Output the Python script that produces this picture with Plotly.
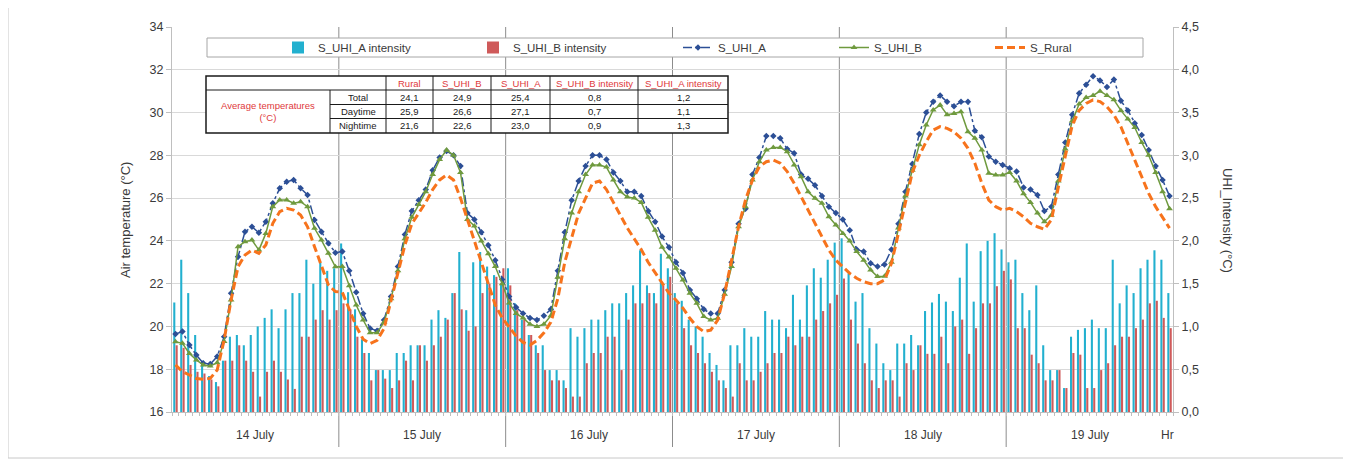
import plotly.graph_objects as go

# ---------------- data ----------------
days = ["14 July", "15 July", "16 July", "17 July", "18 July", "19 July"]
hours_per_day = 24

s_uhi_a = [
    19.65, 19.76, 19.13, 18.66, 18.28, 18.24, 18.59, 19.52, 21.55, 23.26, 24.43, 24.66, 24.38, 24.9, 25.76, 26.46, 26.77, 26.85, 26.46, 26.15, 24.98, 24.43, 23.89, 23.45,
    23.5, 22.6, 21.6, 20.6, 19.9, 19.8, 20.3, 21.4, 22.8, 24.3, 25.4, 25.9, 26.4, 27.3, 27.9, 28.2, 28.0, 27.5, 25.3, 25.0, 24.4, 23.8, 23.1, 22.2,
    21.4, 20.9, 20.6, 20.4, 20.3, 20.5, 20.8, 22.6, 24.4, 25.9, 26.8, 27.5, 28.0, 28.0, 27.8, 27.2, 26.8, 26.3, 26.3, 26.1, 25.4, 24.9, 24.2, 23.7,
    23.0, 22.5, 21.7, 21.3, 20.8, 20.6, 20.6, 21.7, 23.0, 24.8, 25.5, 27.1, 27.9, 28.9, 28.9, 28.8, 28.3, 28.1, 27.1, 26.9, 26.6, 26.1, 25.6, 25.3,
    25.0, 24.5, 23.6, 23.5, 22.95, 22.8, 22.9, 23.6, 24.8, 26.3, 27.6, 29.0, 30.0, 30.5, 30.8, 30.5, 30.3, 30.5, 30.5, 29.15, 28.85, 27.95, 27.7, 27.55,
    27.4, 27.25, 26.5, 26.4, 26.15, 25.4, 25.6, 27.1, 28.6, 29.9, 30.9, 31.3, 31.7, 31.5, 31.2, 31.55, 30.55, 30.1, 29.5, 28.95, 28.25, 27.5, 26.85, 26.1,
]
s_uhi_b = [
    19.29, 19.21, 18.74, 18.43, 18.2, 18.15, 18.3, 19.3, 21.24, 23.73, 23.96, 24.04, 23.57, 24.35, 25.6, 25.91, 25.91, 25.76, 25.83, 25.6, 24.59, 24.04, 23.42, 22.79,
    22.8, 21.9, 21.0, 20.3, 19.7, 19.7, 20.2, 21.3, 22.6, 24.1, 25.1, 25.7, 26.3, 27.1, 27.8, 28.25, 28.0, 27.2, 25.0, 24.7, 24.0, 23.4, 22.8, 22.0,
    21.1, 20.6, 20.4, 20.1, 20.0, 20.1, 20.5, 22.3, 24.1, 25.3, 26.3, 27.1, 27.55, 27.55, 27.45, 26.85, 26.3, 26.05, 26.0, 25.8, 25.1, 24.5, 23.7, 23.25,
    22.72, 22.17, 21.55, 21.08, 20.46, 20.3, 20.38, 21.5, 22.8, 24.66, 25.6, 26.85, 27.7, 28.25, 28.37, 28.37, 28.17, 27.55, 27.0, 26.3, 25.99, 25.76, 25.13, 24.74,
    24.35, 24.0, 23.5, 23.1, 22.64, 22.33, 22.35, 23.0, 24.6, 26.1, 27.3, 28.5, 29.42, 30.12, 30.35, 29.9, 29.96, 30.04, 29.1, 28.8, 28.25, 27.16, 27.08, 27.08,
    27.2, 26.8, 26.2, 25.8, 25.3, 24.9, 25.2, 26.8, 28.3, 29.6, 30.4, 30.7, 30.8, 31.0, 30.8, 30.6, 30.1, 29.7, 29.3, 28.6, 28.0, 27.2, 26.3, 25.5,
]
s_rural = [
    18.2, 17.89, 17.73, 17.57, 17.53, 17.57, 17.96, 19.37, 21.24, 22.79, 23.34, 23.57, 23.42, 23.81, 24.82, 25.37, 25.52, 25.44, 25.21, 24.66, 23.73, 22.79, 21.94, 21.63,
    21.6, 20.8, 20.0, 19.4, 19.2, 19.35, 19.9, 21.2, 22.5, 23.8, 24.8, 25.3, 25.8, 26.4, 26.85, 27.08, 26.85, 26.0, 25.0, 24.0, 23.0, 22.0, 21.0, 20.4,
    20.0, 19.55, 19.25, 19.13, 19.35, 19.7, 20.2, 21.3, 23.0, 24.2, 25.3, 26.0, 26.7, 26.8, 26.4, 25.8, 25.2, 24.6, 24.1, 23.6, 23.0, 22.5, 22.0, 21.55,
    21.24, 20.85, 20.38, 19.99, 19.76, 19.83, 20.3, 21.55, 23.1, 24.66, 25.91, 26.85, 27.47, 27.7, 27.78, 27.63, 27.24, 26.69, 26.07, 25.44, 24.82, 24.2, 23.57, 23.1,
    22.79, 22.48, 22.25, 22.09, 22.0, 22.0, 22.17, 22.95, 24.35, 25.8, 27.2, 28.0, 28.64, 29.18, 29.34, 29.26, 29.1, 28.8, 28.33, 27.63, 26.69, 25.91, 25.6, 25.44,
    25.52, 25.37, 25.13, 24.82, 24.66, 24.54, 24.98, 26.5, 28.0, 29.4, 30.1, 30.43, 30.59, 30.51, 30.27, 29.89, 29.34, 28.56, 27.78, 27.0, 26.22, 25.6, 25.13, 24.6,
]
uhi_a_intensity = [
    1.28, 1.78, 1.39, 0.9, 0.6, 0.42, 0.35, 0.6, 0.88, 0.9, 0.78, 0.9, 1.0, 1.1, 1.2, 0.98, 1.2, 1.39, 1.39, 1.78, 1.5, 1.75, 1.65, 1.68,
    1.97, 1.4, 1.2, 0.85, 0.69, 0.49, 0.49, 0.49, 0.69, 0.69, 0.78, 0.78, 0.78, 1.08, 1.19, 1.1, 1.39, 1.87, 1.19, 1.75, 1.87, 1.7, 1.6, 1.5,
    1.68, 1.27, 1.08, 0.9, 0.78, 0.78, 0.49, 0.49, 0.37, 0.98, 0.88, 0.98, 1.08, 1.08, 1.19, 1.27, 1.27, 1.39, 1.48, 1.89, 1.48, 1.39, 1.85, 1.68,
    1.39, 1.3, 1.08, 1.0, 0.88, 0.69, 0.55, 0.37, 0.78, 0.78, 0.98, 0.88, 0.88, 1.18, 1.08, 1.08, 0.98, 1.37, 1.08, 1.48, 1.68, 1.57, 1.78, 1.98,
    2.03, 1.62, 1.29, 1.39, 0.98, 0.8, 0.57, 0.49, 0.8, 0.8, 0.9, 0.78, 1.18, 1.28, 1.38, 1.29, 1.18, 1.57, 1.97, 1.29, 1.88, 2.0, 2.09, 1.9,
    1.75, 1.78, 1.39, 1.19, 1.48, 0.78, 0.49, 0.49, 0.28, 0.88, 0.96, 0.98, 1.08, 0.98, 0.98, 1.78, 1.27, 1.48, 1.39, 1.68, 1.78, 1.89, 1.78, 1.39,
]
uhi_b_intensity = [
    0.78, 0.75, 0.55, 0.47, 0.45, 0.38, 0.3, 0.6, 0.6, 0.78, 0.6, 0.47, 0.18, 0.47, 0.6, 0.47, 0.38, 0.27, 0.88, 0.88, 1.08, 1.19, 1.08, 1.19,
    1.27, 1.2, 0.88, 0.69, 0.37, 0.49, 0.39, 0.28, 0.37, 0.6, 0.37, 0.78, 0.6, 0.78, 0.88, 1.08, 1.39, 1.2, 0.95, 1.0, 1.39, 1.5, 1.58, 1.68,
    1.48, 1.19, 1.08, 0.9, 0.69, 0.49, 0.37, 0.37, 0.28, 0.18, 0.18, 0.57, 0.69, 0.69, 0.88, 0.88, 0.49, 1.08, 1.27, 1.27, 1.39, 1.27, 1.48, 1.58,
    1.27, 0.98, 0.78, 0.69, 0.57, 0.47, 0.37, 0.28, 0.18, 0.57, 0.37, 0.37, 0.47, 0.57, 0.69, 0.69, 0.88, 0.78, 0.88, 0.88, 1.08, 1.18, 1.27, 1.37,
    1.56, 1.08, 0.8, 0.57, 0.37, 0.28, 0.37, 0.37, 0.18, 0.57, 0.49, 0.78, 0.68, 0.68, 0.88, 0.57, 1.0, 1.08, 0.68, 0.98, 1.27, 1.27, 1.47, 1.65,
    1.55, 0.98, 0.98, 0.67, 0.57, 0.37, 0.37, 0.49, 0.28, 0.69, 0.67, 0.28, 0.28, 0.49, 0.57, 0.78, 0.88, 0.88, 0.98, 1.08, 1.27, 1.3, 1.1, 0.98,
]

# summary table
table_header = ["Rural", "S_UHI_B", "S_UHI_A", "S_UHI_B intensity", "S_UHI_A intensity"]
table_rows = ["Total", "Daytime", "Nightime"]
avg_rural = [24.1, 25.9, 21.6]
avg_uhi_b = [24.9, 26.6, 22.6]
avg_uhi_a = [25.4, 27.1, 23.0]
avg_int_b = [0.8, 0.7, 0.9]
avg_int_a = [1.2, 1.1, 1.3]
table_label = "Average temperatures<br>(°C)"

# ---------------- layout helpers ----------------
# the page body adds an 8px offset; all page-pixel positions below are converted
OFF = 8
W, H = 1351 - OFF, 465 - OFF
PL, PR, PT, PB = 172, 1173, 27, 412          # plot area in page pixels
L, R, T, B = PL - OFF, PR - OFF, PT - OFF, PB - OFF
FONT = "Liberation Sans, Arial, sans-serif"
TXT = "#3a3a3a"
CYAN, RED = "#22b0cf", "#cf5a5a"
BLUE, GREEN, ORANGE = "#2c4f96", "#6f9a3e", "#f7731c"
TRED = "#e0393b"


def px(v):
    return (v - PL) / (PR - PL)


def py(v):
    return (PB - v) / (PB - PT)


def fmt(v):
    return f"{v:.1f}".replace(".", ",")


def note(xp, yp, text, font, **kw):
    d = dict(x=px(xp), y=py(yp), xref="paper", yref="paper", text=text, showarrow=False,
             xanchor="center", yanchor="middle", font=font)
    d.update(kw)
    return d


x = list(range(len(s_uhi_a)))

fig = go.Figure()
fig.add_trace(go.Bar(x=x, y=uhi_a_intensity, name="S_UHI_A intensity", marker=dict(color=CYAN, line_width=0),
                     yaxis="y", legend="legend"))
fig.add_trace(go.Bar(x=x, y=uhi_b_intensity, name="S_UHI_B intensity", marker=dict(color=RED, line_width=0),
                     yaxis="y", legend="legend"))
fig.add_trace(go.Scatter(x=x, y=s_uhi_a, name="S_UHI_A", mode="lines+markers", yaxis="y2", legend="legend2",
                         line=dict(color=BLUE, width=1.5, dash="dashdot"),
                         marker=dict(symbol="diamond", size=5, color=BLUE)))
fig.add_trace(go.Scatter(x=x, y=s_uhi_b, name="S_UHI_B", mode="lines+markers", yaxis="y2", legend="legend2",
                         line=dict(color=GREEN, width=1.5),
                         marker=dict(symbol="triangle-up", size=6, color=GREEN)))
fig.add_trace(go.Scatter(x=x, y=s_rural, name="S_Rural", mode="lines", yaxis="y2", legend="legend2",
                         line=dict(color=ORANGE, width=3, dash="8px,4px")))

n = len(x)
shapes = []
annotations = []

# day boundary lines
for d in range(1, len(days)):
    xb = d * hours_per_day - 0.5
    shapes.append(dict(type="line", xref="x", yref="paper", x0=xb, x1=xb, y0=py(447), y1=1,
                       line=dict(color="#8c8c8c", width=1), layer="below"))
# day labels
lab_font = dict(family=FONT, size=12, color=TXT)
for d, lab in enumerate(days):
    annotations.append(dict(x=d * hours_per_day + hours_per_day / 2 - 0.5, y=py(435), xref="x", yref="paper",
                            text=lab, showarrow=False, xanchor="center", yanchor="middle", font=lab_font))
annotations.append(note(1167, 435, "Hr", lab_font))

# axis titles
title_font = dict(family=FONT, size=13, color=TXT)
annotations.append(note(125, 220, "Air temperature (°C)", title_font, textangle=-90))
annotations.append(note(1228, 220, "UHI_Intensity (°C)", title_font, textangle=90))

# outer frame
shapes.append(dict(type="rect", xref="paper", yref="paper", x0=px(8), x1=px(1346), y0=py(458), y1=py(4),
                   line=dict(color="#c8c8c8", width=1), layer="below"))

# legend box
shapes.append(dict(type="rect", xref="paper", yref="paper", x0=px(207), x1=px(1143), y0=py(57), y1=py(38),
                   line=dict(color="#a6a6a6", width=1), fillcolor="white", layer="above"))

# table
col_x = [206, 330, 386, 433, 491, 550, 638, 728]
row_y = [76, 90, 104.5, 118.5, 133]
dark = "#1a1a1a"
shapes.append(dict(type="rect", xref="paper", yref="paper", x0=px(col_x[0]), x1=px(col_x[-1]),
                   y0=py(row_y[-1]), y1=py(row_y[0]), line=dict(color=dark, width=1.5),
                   fillcolor="white", layer="above"))
shapes.append(dict(type="line", xref="paper", yref="paper", x0=px(col_x[0]), x1=px(col_x[-1]),
                   y0=py(row_y[1]), y1=py(row_y[1]), line=dict(color=dark, width=1), layer="above"))
for ry in row_y[2:-1]:
    shapes.append(dict(type="line", xref="paper", yref="paper", x0=px(col_x[1]), x1=px(col_x[-1]),
                       y0=py(ry), y1=py(ry), line=dict(color=dark, width=1), layer="above"))
shapes.append(dict(type="line", xref="paper", yref="paper", x0=px(col_x[1]), x1=px(col_x[1]),
                   y0=py(row_y[-1]), y1=py(row_y[1]), line=dict(color=dark, width=1), layer="above"))
for cx in col_x[2:-1]:
    shapes.append(dict(type="line", xref="paper", yref="paper", x0=px(cx), x1=px(cx),
                       y0=py(row_y[-1]), y1=py(row_y[0]), line=dict(color=dark, width=1), layer="above"))

tfont = dict(family=FONT, size=9.5, color=dark)
rfont = dict(family=FONT, size=9.5, color=TRED)
for i, h in enumerate(table_header):
    cx = (col_x[i + 2] + col_x[i + 3]) / 2
    annotations.append(note(cx, (row_y[0] + row_y[1]) / 2, h, rfont))
columns = [avg_rural, avg_uhi_b, avg_uhi_a, avg_int_b, avg_int_a]
for r, lab in enumerate(table_rows):
    cy = (row_y[r + 1] + row_y[r + 2]) / 2
    annotations.append(note((col_x[1] + col_x[2]) / 2, cy, lab, tfont))
    for c, vals in enumerate(columns):
        annotations.append(note((col_x[c + 2] + col_x[c + 3]) / 2, cy, fmt(vals[r]), tfont))
annotations.append(note((col_x[0] + col_x[1]) / 2, (row_y[1] + row_y[-1]) / 2, table_label, rfont))

axis_font = dict(family=FONT, size=12.5, color=TXT)
fig.update_layout(
    width=W, height=H,
    margin=dict(l=L, r=W - R, t=T, b=H - B, pad=0, autoexpand=False),
    paper_bgcolor="white", plot_bgcolor="white",
    separators=", ",
    barmode="group", bargap=0.32, bargroupgap=0.12,
    font=dict(family=FONT, color=TXT),
    xaxis=dict(range=[-0.5, n - 0.5], showticklabels=False, ticks="outside", ticklen=3,
               tickcolor="#bfbfbf", tickmode="array", tickvals=[i - 0.5 for i in range(n + 1)],
               showgrid=False, showline=True, linecolor="#bfbfbf", zeroline=False, automargin=False),
    yaxis=dict(range=[0, 4.5], dtick=0.5, tick0=0, tickformat=".1f", side="right",
               showgrid=True, gridcolor="#d9d9d9", ticks="outside", ticklen=5, tickcolor="#bfbfbf",
               showline=True, linecolor="#bfbfbf", zeroline=False, tickfont=axis_font, automargin=False),
    yaxis2=dict(range=[16, 34], dtick=2, tick0=16, overlaying="y", side="left", showgrid=False,
                ticks="outside", ticklen=5, tickcolor="#bfbfbf", showline=True, linecolor="#bfbfbf",
                zeroline=False, tickfont=axis_font, automargin=False),
    legend=dict(orientation="h", x=px(278), y=py(47.5), xanchor="left", yanchor="middle",
                bgcolor="rgba(0,0,0,0)", borderwidth=0, entrywidth=150, entrywidthmode="pixels",
                font=dict(family=FONT, size=11.5, color=TXT)),
    legend2=dict(orientation="h", x=px(678), y=py(47.5), xanchor="left", yanchor="middle",
                 bgcolor="rgba(0,0,0,0)", borderwidth=0, entrywidth=111, entrywidthmode="pixels",
                 font=dict(family=FONT, size=11.5, color=TXT)),
    shapes=shapes,
    annotations=annotations,
    showlegend=True,
)

fig.write_html("out.html")
